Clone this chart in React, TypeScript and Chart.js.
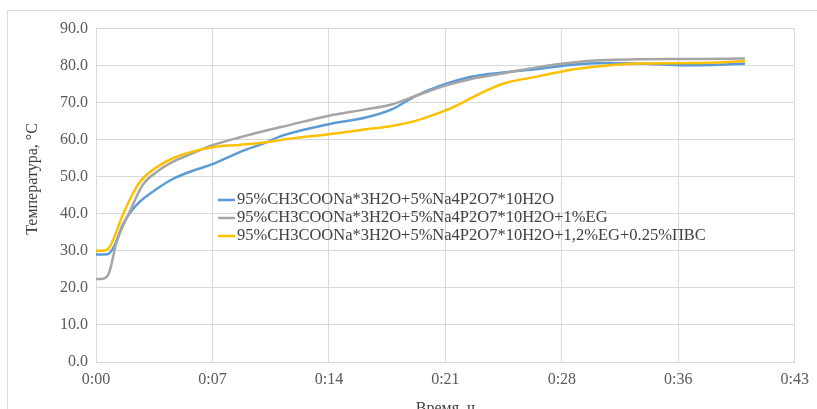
import React, { useEffect, useRef } from 'react';
import { Chart, registerables } from 'chart.js';

Chart.register(...registerables);

// ---- data (time in minutes, temperature in °C) ----
const seriesNames = [
  '95%CH3COONa*3H2O+5%Na4P2O7*10H2O',
  '95%CH3COONa*3H2O+5%Na4P2O7*10H2O+1%EG',
  '95%CH3COONa*3H2O+5%Na4P2O7*10H2O+1,2%EG+0.25%ПВС',
];
const seriesColors = ['#5B9BD5', '#A5A5A5', '#FFC000'];

const blueTime = [0, 0.7, 1.1, 1.66, 2.2, 2.71, 3.75, 4.74, 5.78, 7.2, 8.86, 10.52, 11.51, 14.4, 16.68, 18.28, 19.75, 21.17, 23.2, 25.29, 27.32, 29.35, 31.45, 33.5, 36.5, 40.06];
const blueTemp = [29.0, 29.1, 31.0, 37.1, 40.8, 43.3, 46.7, 49.4, 51.3, 53.4, 56.6, 59.3, 61.1, 64.2, 66.0, 68.2, 71.8, 74.4, 77.0, 78.2, 79.1, 80.2, 80.7, 80.6, 80.1, 80.5];

const grayTime = [0, 0.45, 0.8, 1.29, 2.09, 2.89, 3.75, 4.74, 5.78, 7.2, 8.86, 10.52, 11.51, 14.4, 16.68, 18.28, 19.75, 21.6, 23.2, 25.29, 27.32, 29.35, 31.45, 33.48, 37.0, 40.06];
const grayTemp = [22.4, 22.5, 24.0, 32.6, 40.6, 47.8, 51.3, 54.0, 56.0, 58.5, 60.6, 62.5, 63.5, 66.5, 68.2, 69.5, 71.8, 74.6, 76.4, 78.0, 79.6, 80.8, 81.5, 81.7, 81.8, 81.9];

const yellowTime = [0, 0.55, 0.9, 1.66, 2.2, 2.71, 3.2, 3.75, 4.74, 5.78, 7.2, 8.86, 10.52, 11.51, 14.4, 16.68, 18.28, 19.75, 20.98, 22.22, 23.2, 24.25, 25.29, 27.32, 29.35, 31.45, 33.48, 37.0, 40.06];
const yellowTemp = [30.0, 30.1, 31.5, 39.8, 44.8, 48.6, 50.8, 52.6, 55.0, 56.6, 58.0, 58.6, 59.3, 60.0, 61.5, 62.8, 63.7, 65.1, 66.9, 69.1, 71.3, 73.5, 75.3, 77.1, 78.9, 80.0, 80.6, 80.7, 81.2];

const xTickLabels = ['0:00', '0:07', '0:14', '0:21', '0:28', '0:36', '0:43'];
const yTickLabels = ['0.0', '10.0', '20.0', '30.0', '40.0', '50.0', '60.0', '70.0', '80.0', '90.0'];
const xAxisTitle = 'Время, ч';
const yAxisTitle = 'Температура, °C';

const FONT = '"Liberation Serif", "Times New Roman", serif';

const toPoints = (xs: number[], ys: number[]) => xs.map((x, i) => ({ x, y: ys[i] }));

const overlayPlugin = {
  id: 'overlay',
  afterDatasetsDraw(chart: any) {
    const ctx = chart.ctx as CanvasRenderingContext2D;
    ctx.save();
    // legend inside plot area
    ctx.font = `16.5px ${FONT}`;
    ctx.textBaseline = 'middle';
    ctx.textAlign = 'left';
    const x0 = 210;
    const y0 = 189;
    const dy = 18;
    chart.data.datasets.forEach((ds: any, i: number) => {
      const y = y0 + i * dy;
      ctx.strokeStyle = ds.borderColor;
      ctx.lineWidth = 2.5;
      ctx.beginPath();
      ctx.moveTo(x0, y);
      ctx.lineTo(x0 + 17, y);
      ctx.stroke();
      ctx.fillStyle = '#404040';
      ctx.fillText(ds.label, x0 + 19, y);
    });
    // y axis title
    ctx.font = `16px ${FONT}`;
    ctx.fillStyle = '#404040';
    ctx.translate(25, 168);
    ctx.rotate(-Math.PI / 2);
    ctx.textAlign = 'center';
    ctx.textBaseline = 'middle';
    ctx.fillText(yAxisTitle, 0, 0);
    ctx.restore();
  },
};

export default function App() {
  const ref = useRef<HTMLCanvasElement | null>(null);

  useEffect(() => {
    if (!ref.current) return;
    const chart = new Chart(ref.current, {
      type: 'line',
      data: {
        datasets: [
          { label: seriesNames[0], data: toPoints(blueTime, blueTemp), borderColor: seriesColors[0], order: 2 },
          { label: seriesNames[1], data: toPoints(grayTime, grayTemp), borderColor: seriesColors[1], order: 1 },
          { label: seriesNames[2], data: toPoints(yellowTime, yellowTemp), borderColor: seriesColors[2], order: 0 },
        ].map((d) => ({
          ...d,
          backgroundColor: d.borderColor,
          borderWidth: 2.5,
          pointRadius: 0,
          fill: false,
          cubicInterpolationMode: 'monotone' as const,
          borderCapStyle: 'round' as const,
          borderJoinStyle: 'round' as const,
        })),
      },
      options: {
        responsive: false,
        animation: false,
        events: [],
        layout: { padding: { left: 0, right: 20, top: 14, bottom: 0 } },
        plugins: {
          legend: { display: false },
          tooltip: { enabled: false },
        },
        scales: {
          x: {
            type: 'linear',
            min: 0,
            max: 43.2,
            grid: { color: '#D9D9D9', drawTicks: false, lineWidth: 1 },
            border: { color: '#D9D9D9' },
            ticks: {
              stepSize: 7.2,
              padding: 8,
              color: '#595959',
              font: { family: FONT, size: 16 },
              maxRotation: 0,
              autoSkip: false,
              callback: (_v: any, i: number) => xTickLabels[i] ?? '',
            },
            title: {
              display: true,
              text: xAxisTitle,
              color: '#404040',
              font: { family: FONT, size: 16 },
              padding: { top: 0, bottom: 13 },
            },
            afterFit: (s: any) => {
              s.height = 69;
            },
          },
          y: {
            min: 0,
            max: 90,
            grid: { color: '#D9D9D9', drawTicks: false, lineWidth: 1 },
            border: { display: false },
            ticks: {
              stepSize: 10,
              padding: 8,
              color: '#595959',
              font: { family: FONT, size: 16 },
              callback: (_v: any, i: number) => yTickLabels[i] ?? '',
            },
            afterFit: (s: any) => {
              s.width = 88;
            },
          },
        },
      },
      plugins: [overlayPlugin],
    });
    return () => chart.destroy();
  }, []);

  return (
    <div
      style={{
        position: 'fixed',
        left: 7,
        top: 10,
        width: 840,
        height: 440,
        border: '1px solid #D9D9D9',
        background: '#fff',
        overflow: 'hidden',
      }}
    >
      <canvas ref={ref} width={809} height={420} style={{ display: 'block', width: 809, height: 420 }} />
    </div>
  );
}
